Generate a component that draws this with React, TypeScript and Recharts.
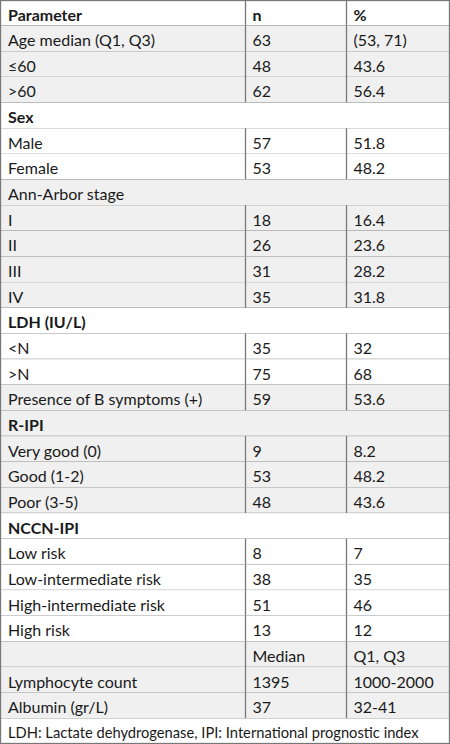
import React from "react";
import { BarChart, Bar, XAxis, YAxis } from "recharts";

const parameters = [
  "Parameter",
  "Age median (Q1, Q3)",
  "≤60",
  ">60",
  "Sex",
  "Male",
  "Female",
  "Ann-Arbor stage",
  "I",
  "II",
  "III",
  "IV",
  "LDH (IU/L)",
  "<N",
  ">N",
  "Presence of B symptoms (+)",
  "R-IPI",
  "Very good (0)",
  "Good (1-2)",
  "Poor (3-5)",
  "NCCN-IPI",
  "Low risk",
  "Low-intermediate risk",
  "High-intermediate risk",
  "High risk",
  "",
  "Lymphocyte count",
  "Albumin (gr/L)",
  "LDH: Lactate dehydrogenase, IPI: International prognostic index",
];

const nValues = [
  "n", "63", "48", "62", "", "57", "53", "", "18", "26", "31", "35", "",
  "35", "75", "59", "", "9", "53", "48", "", "8", "38", "51", "13",
  "Median", "1395", "37", "",
];

const pctValues = [
  "%", "(53, 71)", "43.6", "56.4", "", "51.8", "48.2", "", "16.4", "23.6",
  "28.2", "31.8", "", "32", "68", "53.6", "", "8.2", "48.2", "43.6", "",
  "7", "35", "46", "12", "Q1, Q3", "1000-2000", "32-41", "",
];

const boldLabels = ["Parameter", "Sex", "LDH (IU/L)", "R-IPI", "NCCN-IPI"];

// rows with the grey background
const SHADED = [1, 2, 3, 7, 8, 9, 10, 11, 15, 16, 17, 18, 19, 25, 26, 27];

const COL2 = 245.5;
const COL3 = 346.5;
const PAD = 8;
const BORDER = "#777777";
const FONT = "Lato, sans-serif";

const rows = parameters.map((p, i) => ({
  row: String(i),
  param: p,
  n: nValues[i],
  pct: pctValues[i],
}));

function RowShape(props: any) {
  const { x, y, width, height, index, payload } = props;
  const span = payload.n === "" && payload.pct === "";
  const bold = index === 0 || boldLabels.includes(payload.param);
  const fill = SHADED.includes(index) ? "#f0f0f0" : "#ffffff";
  const last = index === parameters.length - 1;
  const textProps = {
    y: y + height / 2 + 1,
    dominantBaseline: "central" as const,
    fontFamily: FONT,
    fontSize: last ? 14.7 : 16,
    fontWeight: bold ? 700 : 400,
    fill: "#1a1a1a",
  };
  return (
    <g>
      <rect x={x} y={y} width={width} height={height} fill={fill} />
      <line x1={x} x2={x + width} y1={y + height} y2={y + height} stroke={BORDER} strokeWidth={1.3} />
      {!span && (
        <>
          <line x1={COL2} x2={COL2} y1={y} y2={y + height} stroke={BORDER} strokeWidth={1.3} />
          <line x1={COL3} x2={COL3} y1={y} y2={y + height} stroke={BORDER} strokeWidth={1.3} />
        </>
      )}
      <text x={x + PAD} {...textProps}>{payload.param}</text>
      {!span && <text x={COL2 + 7} {...textProps}>{payload.n}</text>}
      {!span && <text x={COL3 + 7} {...textProps}>{payload.pct}</text>}
    </g>
  );
}

export default function App() {
  return (
    <div style={{ position: "absolute", left: 0, top: 0, background: "#fff" }}>
      <BarChart
        width={450}
        height={744}
        data={rows}
        layout="vertical"
        margin={{ top: 0, right: 0, bottom: 0, left: 0 }}
        barCategoryGap={0}
        barGap={0}
      >
        <XAxis type="number" domain={[0, 1]} hide />
        <YAxis type="category" dataKey="row" hide />
        <Bar
          dataKey={() => 1}
          shape={<RowShape />}
          isAnimationActive={false}
        />
      </BarChart>
      <svg
        width={450}
        height={744}
        style={{ position: "absolute", left: 0, top: 0, pointerEvents: "none" }}
      >
        <rect x={0.5} y={0.5} width={449} height={743} fill="none" stroke={BORDER} strokeWidth={1.3} />
      </svg>
    </div>
  );
}
